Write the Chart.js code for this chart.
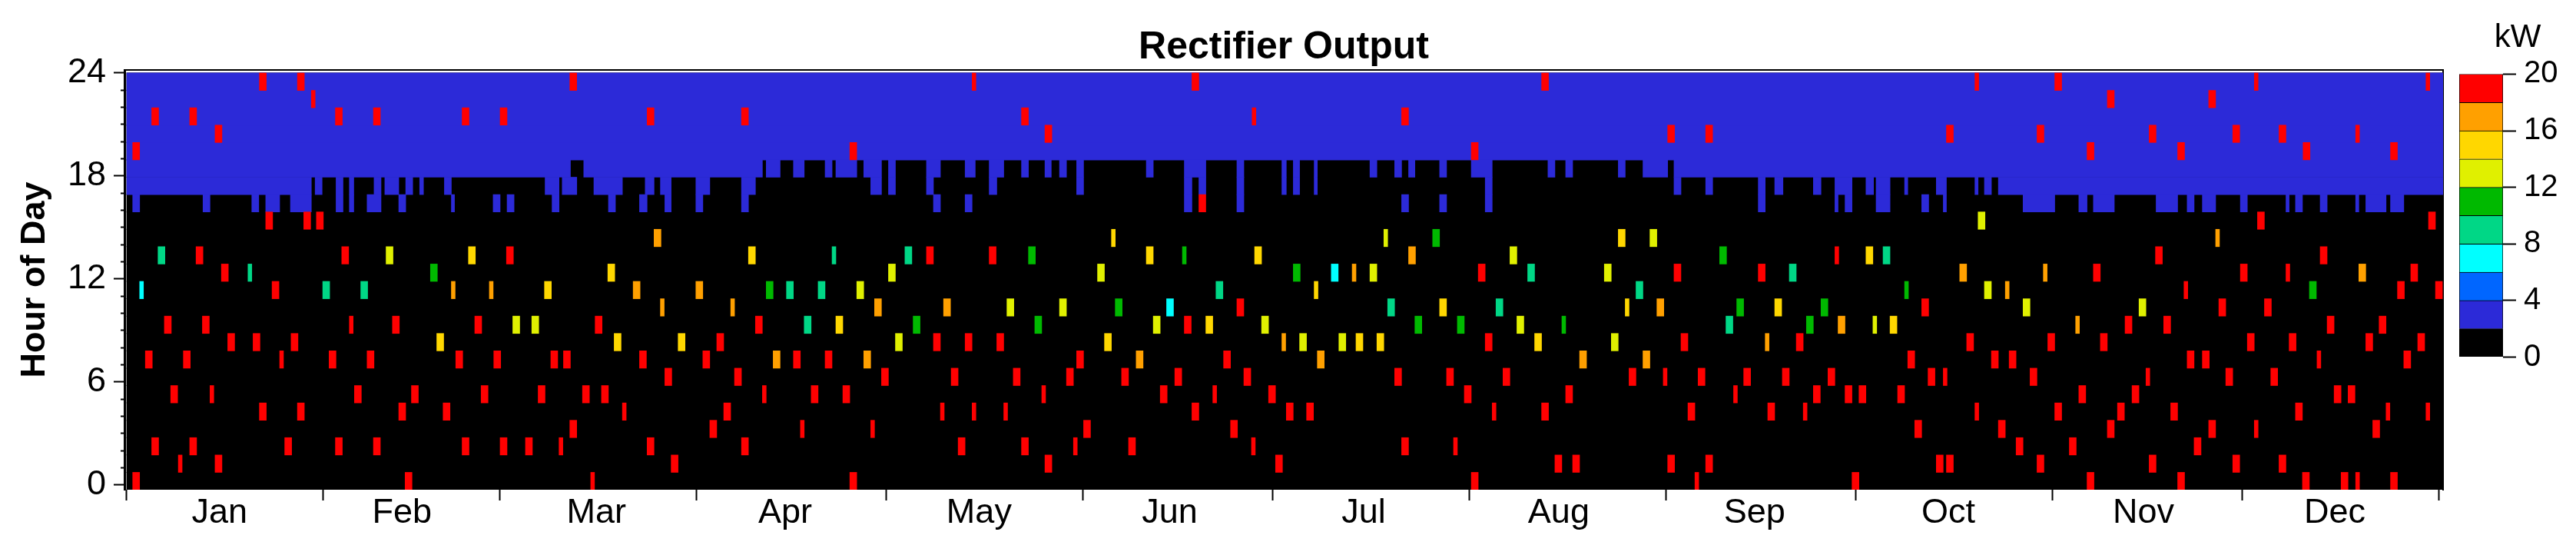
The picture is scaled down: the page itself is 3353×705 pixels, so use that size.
<!DOCTYPE html>
<html>
<head>
<meta charset="utf-8">
<title>Rectifier Output</title>
<script src="https://cdn.jsdelivr.net/npm/chart.js@4"></script>
<style>
    html, body { margin: 0; padding: 0; background: #fff; }
    canvas { position: absolute; top: 0; }
</style>
</head>
<body>
<canvas id="heatChart" width="3190" height="705" style="left:0"></canvas>
<canvas id="barChart" width="163" height="705" style="left:3190px"></canvas>
<script>
const months = ['Jan', 'Feb', 'Mar', 'Apr', 'May', 'Jun', 'Jul', 'Aug', 'Sep', 'Oct', 'Nov', 'Dec']
const monthStarts = [0, 31, 59, 90, 120, 151, 181, 212, 243, 273, 304, 334, 365]
const monthLabelDays = [14.7, 43.5, 74.2, 104, 134.6, 164.7, 195.3, 226.1, 257, 287.6, 318.4, 348.6]
const hourLabels = [0, 6, 12, 18, 24]
const hourMarks = [0, 1, 2, 3, 4, 5, 6, 7, 8, 9, 10, 11, 12, 13, 14, 15, 16, 17, 18, 19, 20, 21, 22, 23, 24]
const allHours = [0, 1, 2, 3, 4, 5, 6, 7, 8, 9, 10, 11, 12, 13, 14, 15, 16, 17, 18, 19, 20, 21, 22, 23]
const kwTicks = [0, 4, 8, 12, 16, 20]
const kwLevels = [2, 2, 2, 2, 2, 2, 2, 2, 2, 2]
const kwColors = ['#000000', '#2c2ad8', '#0066ff', '#00ffff', '#00d786', '#00b900', '#e0f000', '#ffd700', '#ffa000', '#ff0000']

// hours where the output stays in the 2-4 kW band all year
const blueAllYear = [19, 20, 21, 22, 23]
// [from day, to day]
const blue18 = [[0, 70.1], [72.2, 100.4], [101, 103.2], [105.3, 107], [110.3, 111.4], [112, 115.3], [116.4, 119.2], [120.3, 121.4], [126.3, 128.5], [132.4, 134], [136.2, 138.5], [141.3, 142.4], [145, 146], [147.3, 148.4], [150, 151.1], [161, 162.1], [167, 170.4], [175.3, 176.4], [182.4, 183.1], [184.2, 185.2], [187.5, 188], [196.3, 197.4], [200.2, 201.3], [202.4, 203.4], [207.3, 208.4], [212.3, 215.6], [224.4, 225.5], [227.2, 228.3], [235.5, 236.6], [239.4, 243.3], [244.3, 366]]
const blue17 = [[0, 29.2], [29.8, 30.9], [33.1, 34.2], [35.2, 35.9], [39.1, 40.2], [40.8, 43], [44.1, 45.2], [46.3, 46.9], [50.2, 51.3], [66.1, 68.3], [68.8, 71.1], [73.8, 78.3], [81.9, 83.3], [84.3, 86], [89.9, 92.1], [97.1, 99.3], [117.5, 119.2], [120.3, 121.4], [126.3, 127.4], [136.2, 137.4], [150, 151.1], [167, 168.2], [169.3, 170.4], [175.3, 176.4], [182.4, 183.1], [184.2, 185.2], [187.5, 188], [214.5, 215.6], [244.3, 245.4], [249.3, 250.4], [257.6, 258.7], [260.2, 261.5], [266.3, 267.5], [269.7, 272.4], [274.6, 275.8], [276.2, 278.4], [280.7, 281.2], [285.7, 287.3], [291.8, 292.3], [293.3, 294.4], [295.5, 366]]
const blue16 = [[1, 2.1], [12.1, 13.2], [19.8, 20.9], [22, 24.2], [25.9, 29.2], [33.1, 34.2], [35.2, 35.9], [38, 40.2], [43, 44.1], [51.3, 51.8], [57.9, 59], [60.1, 61.2], [67.2, 68.3], [76.1, 77.2], [81, 82.2], [85, 86], [89.9, 91], [97.1, 98.2], [127.4, 128.5], [132.4, 133.5], [167, 168.2], [175.3, 176.4], [201.3, 202.4], [207.3, 208.4], [214.5, 215.6], [257.6, 258.7], [269.7, 270.2], [271.3, 272.4], [276.2, 278.4], [283.4, 284.5], [286.8, 287.3], [299.4, 304.4], [308.2, 309.5], [310.5, 313.8], [320.4, 323.8], [325.3, 326.4], [327.7, 329.8], [333.7, 334.8], [340.9, 341.4], [342.4, 343.5], [346.3, 347.4], [351.9, 352.4], [353.5, 356.7], [357.4, 359.5]]

// [hour, day, span if the column is a thin one]
const cells6to8 = [[11, 2.1, .6], [10, 164.2], [12, 190.2]]
const cells8to10 = [[13, 5], [12, 19.2, .6], [11, 31], [11, 37], [13, 111.4, .6], [13, 122.9], [11, 104.2], [11, 109.2], [11, 172], [9, 107], [13, 277.3], [12, 221.2], [12, 262.5], [11, 238.3], [10, 199.1], [10, 216.2], [9, 252.5]]
const cells10to12 = [[12, 48], [13, 142.4], [13, 166.7, .6], [11, 101], [10, 156.1], [9, 124.2], [9, 143.4], [14, 206.2], [13, 251.5], [12, 184.2], [11, 280.7, .6], [10, 254.2], [10, 267.5], [9, 203.4], [9, 210.1], [9, 226.6, .6], [9, 265.2], [11, 344.6]]
const cells12to14 = [[13, 41], [9, 61], [9, 64], [12, 120.3], [12, 153.3], [11, 115.3], [10, 139], [10, 147.3], [9, 162.1], [9, 179.2], [8, 121.4], [14, 198.5, .6], [14, 240.5], [13, 218.4], [12, 196.3], [12, 233.3], [9, 219.5], [9, 275.7, .6], [8, 185.2], [8, 191.4], [8, 234.4], [15, 292.3], [11, 293.3], [10, 299.4], [10, 317.7]]
const cells14to16 = [[13, 54], [12, 76], [11, 66], [8, 49], [8, 77], [14, 155.5, .6], [13, 98.2], [13, 161], [13, 178.1], [9, 112], [9, 170.4], [8, 87.1], [8, 154.4], [11, 187.5, .6], [14, 235.5], [13, 274.6], [10, 207.3], [10, 236.6, .6], [10, 260.2], [9, 278.4], [8, 194.1], [8, 197.4], [8, 222.3]]
const cells16to18 = [[11, 51.3, .6], [11, 57.3, .6], [11, 80], [14, 83.3], [11, 89.9], [10, 84.3, .6], [10, 95.4, .6], [10, 118.1], [10, 129], [8, 182.4, .6], [7, 102.1], [7, 116.4], [7, 159.4], [12, 193.5, .6], [13, 202.4], [10, 241.6], [9, 270.2], [8, 258.7, .6], [7, 188], [7, 229.4], [7, 239.4], [12, 289.4], [12, 302.6, .6], [12, 352.4], [14, 329.8, .6], [11, 296.6, .6], [9, 307.7, .6]]
const cells18to20 = [
    [23, 21], [23, 27], [23, 70], [22, 29.2, .6], [21, 4], [21, 10], [21, 33], [21, 39], [21, 53], [21, 59], [20, 14], [19, 1], [15, 22], [15, 28], [15, 30], [13, 11], [13, 34], [13, 60], [12, 15], [11, 23], [9, 6], [9, 12], [9, 35.2, .6], [9, 42], [9, 55], [9, 74], [8, 16], [8, 20], [8, 26], [7, 3], [7, 9], [7, 24.2, .6], [7, 32], [7, 38], [7, 52], [7, 58], [7, 67], [7, 69], [7, 81], [5, 7], [5, 13.2, .6], [5, 36], [5, 45], [5, 56], [5, 65], [5, 72], [5, 75], [4, 21], [4, 27], [4, 43], [4, 50], [4, 78.3, .6], [3, 70], [2, 4], [2, 10], [2, 25], [2, 33], [2, 39], [2, 53], [2, 59], [2, 63], [2, 68.3, .6], [1, 8.2, .6], [1, 14], [0, 1], [0, 44], [0, 73.3, .6],
    [23, 133.5, .6], [23, 168.2], [21, 82.2], [21, 97.1], [21, 141.3], [21, 177.7, .6], [20, 145], [19, 114.2], [16, 169.3], [13, 126.3], [13, 136.2], [10, 175.3], [9, 99.3], [9, 167], [8, 93.2], [8, 127.4], [8, 132.4], [8, 137.4], [7, 91], [7, 105.3], [7, 110.3], [7, 150], [7, 173.2], [6, 85], [6, 96], [6, 119.2], [6, 130.2], [6, 140], [6, 148.4], [6, 157.1], [6, 165.5], [6, 176.4], [5, 100.4, .6], [5, 108.1], [5, 113.1], [5, 144.5, .6], [5, 163.2], [5, 171.5, .6], [5, 180.3], [4, 94.3], [4, 128.5, .6], [4, 133.5, .6], [4, 138.5, .6], [4, 168.2], [4, 183.1], [3, 92.1], [3, 106.4, .6], [3, 117.5, .6], [3, 151.1], [3, 174.3], [2, 82.2], [2, 97.1], [2, 131.3], [2, 141.3], [2, 149.5, .6], [2, 158.2], [2, 177.6, .6], [1, 86], [1, 145], [1, 181.4], [0, 114.2],
    [23, 223.4], [21, 201.3], [20, 243.3], [20, 249.3], [19, 212.3], [13, 269.7, .6], [12, 213.4], [12, 244.3], [12, 257.6], [10, 283.4], [8, 214.5], [8, 245.4], [8, 263.6], [7, 281.2], [6, 200.2], [6, 208.4], [6, 217.3], [6, 237.2], [6, 242.6, .6], [6, 248.1], [6, 255.3], [6, 261.4], [6, 268.6], [6, 284.4], [5, 211.2], [5, 227.2], [5, 253.7, .6], [5, 266.3], [5, 271.3], [5, 273.5], [5, 279.6], [4, 186.3], [4, 215.6, .6], [4, 223.4], [4, 246.5], [4, 259.1], [4, 264.7, .6], [3, 282.3], [2, 201.3], [2, 209.5, .6], [1, 225.5], [1, 228.3], [1, 243.3], [1, 249.3], [0, 212.3], [0, 247.6, .6], [0, 272.4],
    [23, 291.8, .6], [23, 304.4], [23, 335.9, .6], [23, 363, .6], [22, 312.7], [22, 328.7], [20, 287.3], [20, 301.6], [20, 319.3], [20, 332.5], [20, 339.8], [20, 351.9, .6], [19, 309.5], [19, 323.8], [19, 343.6], [19, 357.4], [15, 336.4], [15, 363.4], [13, 320.3], [13, 346.3], [12, 310.5], [12, 333.7], [12, 340.9, .6], [12, 360.6], [11, 324.8, .6], [11, 358.5], [11, 364.5], [10, 330.3], [10, 337.5], [9, 315.5], [9, 321.6], [9, 347.4], [9, 355.6], [8, 290.5], [8, 303.3], [8, 311.6], [8, 334.8], [8, 341.4], [8, 353.5], [8, 361.7], [7, 294.4], [7, 297.2], [7, 325.3], [7, 327.7], [7, 345.8, .6], [7, 359.5], [6, 286.8, .6], [6, 300.5], [6, 318.8, .6], [6, 331.4], [6, 338.5], [5, 308.2], [5, 316.6], [5, 348.5], [5, 350.7], [4, 291.8, .6], [4, 304.4], [4, 314.3], [4, 322.7], [4, 342.4], [4, 356.7, .6], [4, 363, .6], [3, 295.5], [3, 312.7], [3, 328.7], [3, 335.9, .6], [3, 354.6], [2, 298.3], [2, 306.7], [2, 326.4], [1, 285.7], [1, 287.3], [1, 301.6], [1, 319.3], [1, 332.5], [1, 339.8], [0, 309.5], [0, 323.8], [0, 343.5], [0, 349.6], [0, 351.9, .6], [0, 357.4]
]

const fontFamily = '"Liberation Sans", Arial, sans-serif'
const dayMax = 365.7

const spanBars = (hour, spans) => spans.map(([from, to]) => ({ y: hour + 0.5, x: [from, Math.min(to, dayMax)] }))
const cellBars = (cells) => cells.map(([hour, day, span = 1.09]) => ({ y: hour + 0.5, x: [day, day + span] }))
const setTicks = (values) => (scale) => { scale.ticks = values.map(value => ({ value })) }
const setHeight = (h) => (scale) => { scale.height = h }
const setWidth = (w) => (scale) => { scale.width = w }

const heatSet = (data, color, thickness) => ({
    data,
    backgroundColor: color,
    borderWidth: 0,
    barThickness: thickness,
    xAxisID: 'xDays',
    yAxisID: 'yCells',
})

new Chart(document.getElementById('heatChart'), {
    type: 'bar',
    data: {
        // Chart.js paints the first dataset last, so the rare high values come first
        datasets: [
            heatSet(cellBars(cells18to20), kwColors[9], 22.6),
            heatSet(cellBars(cells16to18), kwColors[8], 22.6),
            heatSet(cellBars(cells14to16), kwColors[7], 22.6),
            heatSet(cellBars(cells12to14), kwColors[6], 22.6),
            heatSet(cellBars(cells10to12), kwColors[5], 22.6),
            heatSet(cellBars(cells8to10), kwColors[4], 22.6),
            heatSet(cellBars(cells6to8), kwColors[3], 22.6),
            heatSet(spanBars(16, blue16), kwColors[1], 22.6),
            heatSet(spanBars(17, blue17), kwColors[1], 22.6),
            heatSet(spanBars(18, blue18), kwColors[1], 22.6),
            heatSet(blueAllYear.flatMap(h => spanBars(h, [[0, dayMax]])), kwColors[1], 23),
            heatSet(allHours.flatMap(h => spanBars(h, [[0, dayMax]])), kwColors[0], 23),
        ]
    },
    options: {
        indexAxis: 'y',
        responsive: false,
        animation: false,
        events: [],
        grouped: false,
        categoryPercentage: 1,
        barPercentage: 1,
        layout: { autoPadding: false, padding: { top: 0, left: 0, right: 10, bottom: 0 } },
        plugins: {
            legend: { display: false },
            tooltip: { enabled: false },
            title: {
                display: true,
                text: 'Rectifier Output',
                fullSize: false,
                color: '#000',
                font: { family: fontFamily, size: 50, weight: 'bold', lineHeight: 1.2 },
                padding: { top: 32, bottom: -1 },
            },
        },
        scales: {
            xDays: {
                axis: 'x', type: 'linear', position: 'bottom', min: -0.3, max: dayMax, offset: false,
                afterBuildTicks: setTicks(monthStarts),
                afterFit: setHeight(0),
                ticks: { display: false, autoSkip: false },
                border: { display: false },
                grid: { drawOnChartArea: false, tickLength: 14, tickWidth: 2, tickColor: '#000' },
            },
            xMonths: {
                axis: 'x', type: 'linear', position: 'bottom', min: -0.3, max: dayMax, offset: false, weight: 5,
                afterBuildTicks: setTicks(monthLabelDays),
                afterFit: setHeight(68),
                border: { display: false },
                grid: { display: false, drawTicks: false },
                ticks: {
                    autoSkip: false, maxRotation: 0, padding: 4, color: '#000',
                    font: { family: fontFamily, size: 45 },
                    callback: (value, i) => months[i],
                },
            },
            xTopLine: {
                axis: 'x', type: 'linear', position: 'top', min: 0, max: 1, offset: false,
                afterFit: setHeight(0),
                ticks: { display: false },
                border: { display: true, color: '#000', width: 2 },
                grid: { display: false, drawTicks: false },
            },
            yRightLine: {
                axis: 'y', type: 'linear', position: 'right', min: 0, max: 1, offset: false,
                afterFit: setWidth(0),
                ticks: { display: false },
                border: { display: true, color: '#000', width: 2 },
                grid: { display: false, drawTicks: false },
            },
            yCells: { axis: 'y', type: 'linear', display: false, min: 0, max: 24.177, offset: false },
            yHourMarks: {
                axis: 'y', type: 'linear', position: 'left', min: -0.269, max: 24.179, offset: false, weight: 0,
                afterBuildTicks: setTicks(hourMarks),
                afterFit: setWidth(5),
                ticks: { display: false, autoSkip: false },
                border: { display: true, color: '#000', width: 3 },
                grid: { offset: false, drawOnChartArea: false, tickLength: 5, tickWidth: 2, tickColor: '#000' },
            },
            yHours: {
                axis: 'y', type: 'linear', position: 'left', min: -0.269, max: 24.179, offset: false, weight: 1,
                afterBuildTicks: setTicks(hourLabels),
                afterFit: setWidth(157),
                border: { display: false },
                grid: { offset: false, drawOnChartArea: false, tickLength: 9, tickWidth: 2, tickColor: '#000' },
                ticks: {
                    autoSkip: false, maxRotation: 0, padding: 10, color: '#000',
                    font: { family: fontFamily, size: 45 },
                    callback: (value) => String(value),
                },
                title: {
                    display: true, text: 'Hour of Day', color: '#000',
                    font: { family: fontFamily, size: 45, weight: 'bold', lineHeight: 1 },
                    padding: { top: 23, bottom: 0 },
                },
            },
        },
    },
})

new Chart(document.getElementById('barChart'), {
    type: 'bar',
    data: {
        labels: ['kW'],
        datasets: kwLevels.map((level, i) => ({
            data: [level],
            backgroundColor: kwColors[i],
            borderColor: '#000',
            borderWidth: 1,
        })),
    },
    options: {
        responsive: false,
        animation: false,
        events: [],
        categoryPercentage: 1,
        barPercentage: 1,
        layout: { autoPadding: false, padding: { top: 0, left: 11, right: 0, bottom: 240.5 } },
        plugins: {
            legend: { display: false },
            tooltip: { enabled: false },
            title: {
                display: true, text: 'kW', color: '#000',
                font: { family: fontFamily, size: 42, weight: 'normal', lineHeight: 1 },
                padding: { top: 28, bottom: 26.4 },
            },
        },
        scales: {
            x: { stacked: true, display: false },
            y: {
                stacked: true, position: 'right', min: 0, max: 20,
                afterBuildTicks: setTicks(kwTicks),
                afterFit: setWidth(95),
                border: { display: false },
                grid: { drawOnChartArea: false, tickLength: 17, tickWidth: 2, tickColor: '#000' },
                ticks: {
                    autoSkip: false, padding: 10, color: '#000',
                    font: { family: fontFamily, size: 40 },
                    callback: (value) => String(value),
                },
            },
        },
    },
})
</script>
</body>
</html>
